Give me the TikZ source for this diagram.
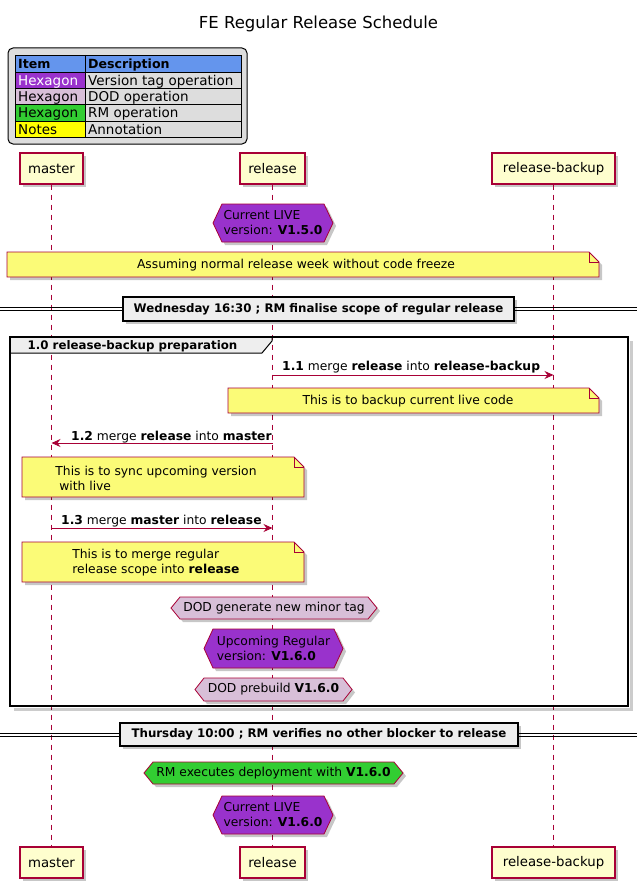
\documentclass[tikz,border=0pt]{standalone}
\usepackage{fontspec}
\setmainfont{DejaVu Sans}
\usetikzlibrary{arrows.meta,shadows}
\definecolor{pborder}{HTML}{A80036}
\definecolor{pfill}{HTML}{FEFECE}
\definecolor{notefill}{HTML}{FBFB77}
\definecolor{hpurple}{HTML}{9932CC}
\definecolor{hthistle}{HTML}{D8BFD8}
\definecolor{hgreen}{HTML}{32CD32}
\definecolor{lgray}{HTML}{DDDDDD}
\definecolor{lblue}{HTML}{6495ED}
\definecolor{dgray}{HTML}{EEEEEE}
\definecolor{lyellow}{HTML}{FFFF00}
\newcommand\fsz[2]{\fontsize{#1}{#2}\selectfont}
\tikzset{
  myshadow/.style={fill=black, opacity=0.22},
  dshadow/.style={drop shadow={shadow xshift=3pt,shadow yshift=-3pt,opacity=0.22,fill=black}},
  lifeline/.style={draw=pborder, line width=0.8pt, dash pattern=on 5pt off 5pt},
  partbox/.style={draw=pborder, fill=pfill, line width=1.1pt, inner sep=0pt, font=\fsz{13.3}{16}, dshadow},
  notebox/.style={draw=pborder, fill=notefill, line width=0.8pt},
  hexline/.style={draw=pborder, line width=0.8pt},
  txt/.style={font=\fsz{12.3}{15}, inner sep=0pt, align=left},
  btxt/.style={font=\fsz{11.8}{14}\bfseries, inner sep=0pt},
  msg/.style={draw=pborder, line width=0.9pt, -{Stealth[length=9pt,width=8pt,inset=3pt]}},
  divbox/.style={draw=black, fill=dgray, line width=1.5pt, inner sep=0pt, font=\fsz{11.8}{14}\bfseries, dshadow},
  divline/.style={draw=black, line width=0.8pt},
  legtxt/.style={font=\fsz{13.5}{16}, inner sep=0pt, anchor=base west},
  legbold/.style={font=\fsz{12.6}{16}\bfseries, inner sep=0pt, anchor=base west},
  titletxt/.style={font=\fsz{16.5}{20}, inner sep=0pt, anchor=base},
}
% hexagonal note: name, x1, x2, y1, y2, fill, text
\newcommand\hexnote[7]{%
  \fill[myshadow] ({#2+3},{(#4+#5)/2+3}) -- ({#2+12},{#4+3}) -- ({#3-6},{#4+3}) -- ({#3+3},{(#4+#5)/2+3}) -- ({#3-6},{#5+3}) -- ({#2+12},{#5+3}) -- cycle;
  \draw[hexline, fill=#6] (#2,{(#4+#5)/2}) -- ({#2+9},#4) -- ({#3-9},#4) -- (#3,{(#4+#5)/2}) -- ({#3-9},#5) -- ({#2+9},#5) -- cycle;
  \node[txt] (#1) at ({(#2+#3)/2},{(#4+#5)/2}) {#7};
}
% note with folded corner: name, x1, x2, y1, y2, text position, text
\newcommand\notebx[7]{%
  \fill[myshadow] ({#2+3},{#4+3}) -- ({#3-7},{#4+3}) -- ({#3+3},{#4+13}) -- ({#3+3},{#5+3}) -- ({#2+3},{#5+3}) -- cycle;
  \draw[notebox] (#2,#4) -- ({#3-10},#4) -- (#3,{#4+10}) -- (#3,#5) -- (#2,#5) -- cycle;
  \draw[notebox, fill=none] ({#3-10},#4) -- ({#3-10},{#4+10}) -- (#3,{#4+10});
  \node[txt] (#1) at (#6) {#7};
}
\begin{document}
\begin{tikzpicture}[x=1pt,y=-1pt]
\useasboundingbox (0,0) rectangle (643,891);
% title
\node[titletxt] (title) at (318.5,29) {FE Regular Release Schedule};
% legend
\draw[black, line width=1pt, fill=lgray, rounded corners=5pt] (8,48) rectangle (247,144);
\fill[lblue] (15,55) rectangle (241,72);
\fill[hpurple] (15,72) rectangle (85,88.5);
\fill[hthistle] (15,88.5) rectangle (85,104.5);
\fill[hgreen] (15,104.5) rectangle (85,121);
\fill[lyellow] (15,121) rectangle (85,137);
\draw[black, line width=0.9pt] (15,55) rectangle (241,137);
\draw[black, line width=0.9pt] (15,72) -- (241,72) (15,88.5) -- (241,88.5) (15,104.5) -- (241,104.5) (15,121) -- (241,121) (85,55) -- (85,137);
\node[legbold] (lgA) at (18,68) {Item};
\node[legbold] (lgB) at (88,68) {Description};
\node[legtxt, text=white] (lg1a) at (18,85) {Hexagon};
\node[legtxt] (lg1b) at (88,85) {Version tag operation};
\node[legtxt] (lg2a) at (18,101.5) {Hexagon};
\node[legtxt] (lg2b) at (88,101.5) {DOD operation};
\node[legtxt] (lg3a) at (18,117.5) {Hexagon};
\node[legtxt] (lg3b) at (88,117.5) {RM operation};
\node[legtxt] (lg4a) at (18,134) {Notes};
\node[legtxt] (lg4b) at (88,134) {Annotation};
% participants
\node[partbox, minimum width=63pt, minimum height=31pt] (mT) at (51.5,168.5) {master};
\node[partbox, minimum width=65pt, minimum height=31pt] (rT) at (272.5,168.5) {release};
\node[partbox, minimum width=123pt, minimum height=31pt] (bT) at (553.5,168.5) {release-backup};
\node[partbox, minimum width=63pt, minimum height=31pt] (mB) at (51.5,862.5) {master};
\node[partbox, minimum width=65pt, minimum height=31pt] (rB) at (272.5,862.5) {release};
\node[partbox, minimum width=123pt, minimum height=31pt] (bB) at (553.5,862.5) {release-backup};
\draw[lifeline] (mT.south) -- (mB.north);
\draw[lifeline] (rT.south) -- (rB.north);
\draw[lifeline] (bT.south) -- (bB.north);
% first hexagon and note
\hexnote{hexA}{213}{333}{204}{242}{hpurple}{Current LIVE\\version: \textbf{V1.5.0}}
\notebx{noteA}{7}{599}{252}{277}{296,265}{Assuming normal release week without code freeze}
% divider 1
\draw[divline] (0,307.5) -- (637,307.5) (0,310.5) -- (637,310.5);
\node[divbox, minimum width=391pt, minimum height=24pt] (div1) at (318.5,309) {Wednesday 16:30 ; RM finalise scope of regular release};
% group frame
\draw[black, opacity=0.2, line width=3pt] (631.5,341) -- (631.5,709.5) -- (14,709.5);
\draw[black, line width=1pt, fill=dgray] (10,337) -- (272,337) -- (272,341) -- (262,353) -- (10,353) -- cycle;
\draw[black, line width=1.5pt] (10,337) rectangle (628,706);
\node[btxt] (grp) at (132.5,346) {1.0 release-backup preparation};
% message 1.1
\coordinate (m11a) at (272.5,375);
\coordinate (m11b) at (553.5,375);
\draw[msg] (m11a) -- (m11b);
\node[txt, anchor=base west] (l11) at (282,370.5) {\textbf{1.1} merge \textbf{release} into \textbf{release-backup}};
\notebx{noteB}{228}{599}{388}{413}{408,401}{This is to backup current live code}
% message 1.2
\coordinate (m12a) at (272.5,443);
\coordinate (m12b) at (51.5,443);
\draw[msg] (m12a) -- (m12b);
\node[txt, anchor=base west] (l12) at (71,440) {\textbf{1.2} merge \textbf{release} into \textbf{master}};
\notebx{noteC}{22}{304}{457}{497}{156,478.5}{This is to sync upcoming version\\\hspace*{3.9pt}with live}
% message 1.3
\coordinate (m13a) at (51.5,528);
\coordinate (m13b) at (272.5,528);
\draw[msg] (m13a) -- (m13b);
\node[txt, anchor=base west] (l13) at (61,524.5) {\textbf{1.3} merge \textbf{master} into \textbf{release}};
\notebx{noteD}{22}{304}{542}{582}{156,562.5}{This is to merge regular\\release scope into \textbf{release}}
% hexagons in group
\hexnote{hexB}{171}{377}{597}{619}{hthistle}{DOD generate new minor tag}
\hexnote{hexC}{204}{343}{629}{668}{hpurple}{Upcoming Regular\\version: \textbf{V1.6.0}}
\hexnote{hexD}{195}{352}{678}{701}{hthistle}{DOD prebuild \textbf{V1.6.0}}
% divider 2
\draw[divline] (0,733.5) -- (637,733.5) (0,736.5) -- (637,736.5);
\node[divbox, minimum width=398pt, minimum height=23pt] (div2) at (319,734.5) {Thursday 10:00 ; RM verifies no other blocker to release};
% final hexagons
\hexnote{hexE}{144}{403}{762}{784}{hgreen}{RM executes deployment with \textbf{V1.6.0}}
\hexnote{hexF}{213}{333}{796}{834}{hpurple}{Current LIVE\\version: \textbf{V1.6.0}}
\end{tikzpicture}
\end{document}
